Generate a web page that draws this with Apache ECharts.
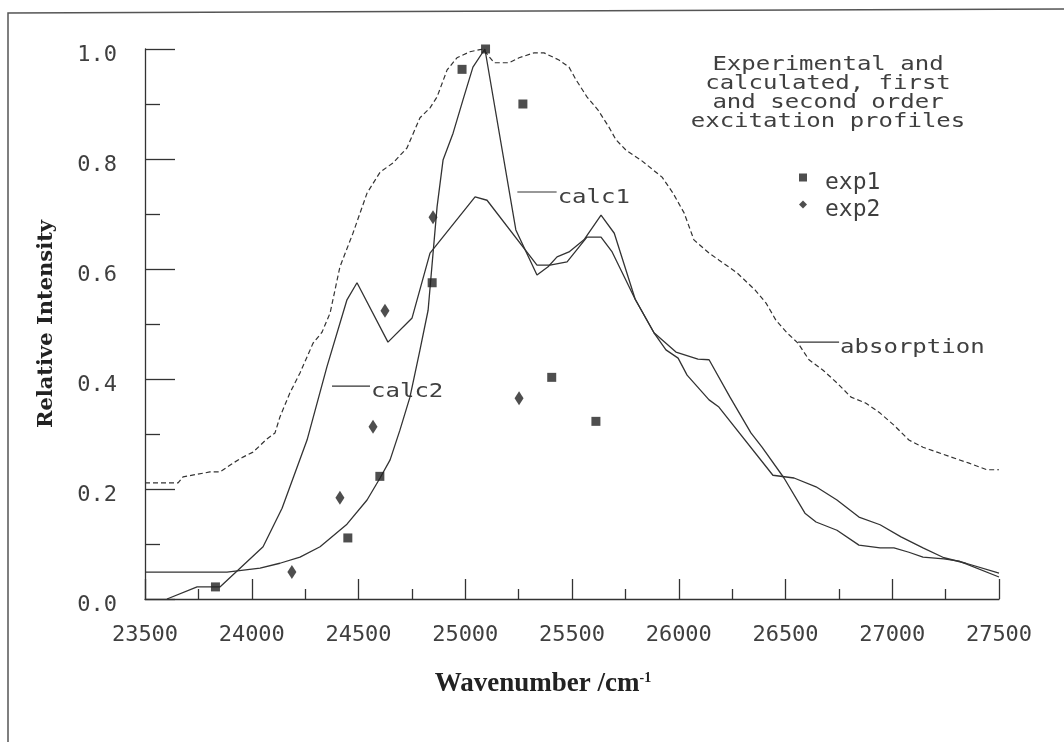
<!DOCTYPE html>
<html><head><meta charset="utf-8">
<script src="https://cdn.jsdelivr.net/npm/echarts@6/dist/echarts.min.js"></script>
<style>html,body{margin:0;padding:0;background:#fff}#c{width:1064px;height:742px}</style>
</head><body><div id="c"></div>
<script>
// ---- data ----
const xMin = 23500, xMax = 27500, xStep = 500;
const yMin = 0, yMax = 1, yStep = 0.2;

const exp1X = [23830, 24450, 24600, 24845, 24985, 25095, 25270, 25405, 25612];
const exp1Y = [0.022, 0.111, 0.223, 0.575, 0.963, 1.0, 0.90, 0.403, 0.323];

const exp2X = [24188, 24413, 24568, 24624, 24849, 25252];
const exp2Y = [0.049, 0.184, 0.313, 0.524, 0.694, 0.365];

const calc1X = [23500, 23884, 24039, 24132, 24226, 24320, 24446, 24540, 24601, 24648, 24694, 24741, 24788, 24826, 24868, 24896, 24943, 24989, 25036, 25092, 25237, 25336, 25388, 25430, 25486, 25556, 25636, 25698, 25796, 25884, 25987, 26090, 26142, 26240, 26338, 26390, 26493, 26591, 26643, 26741, 26844, 26943, 27008, 27078, 27144, 27242, 27313, 27500];
const calc1Y = [0.049, 0.049, 0.056, 0.065, 0.076, 0.095, 0.136, 0.18, 0.22, 0.253, 0.307, 0.367, 0.453, 0.525, 0.713, 0.798, 0.847, 0.907, 0.967, 1.0, 0.671, 0.589, 0.604, 0.622, 0.631, 0.653, 0.698, 0.665, 0.545, 0.484, 0.449, 0.436, 0.435, 0.367, 0.302, 0.276, 0.22, 0.156, 0.14, 0.125, 0.098, 0.093, 0.093, 0.085, 0.076, 0.073, 0.069, 0.04];

const calc2X = [23603, 23744, 23851, 24053, 24142, 24259, 24352, 24446, 24493, 24638, 24751, 24835, 25046, 25102, 25336, 25397, 25477, 25570, 25636, 25688, 25796, 25884, 25940, 25997, 26039, 26142, 26188, 26441, 26540, 26643, 26741, 26844, 26943, 27041, 27144, 27242, 27345, 27500];
const calc2Y = [0.0, 0.022, 0.022, 0.095, 0.165, 0.289, 0.422, 0.544, 0.575, 0.467, 0.511, 0.629, 0.731, 0.725, 0.607, 0.607, 0.613, 0.658, 0.658, 0.631, 0.545, 0.484, 0.453, 0.438, 0.407, 0.362, 0.349, 0.225, 0.22, 0.204, 0.18, 0.149, 0.135, 0.113, 0.093, 0.075, 0.065, 0.047];

const absX = [23500, 23655, 23678, 23804, 23851, 23912, 23959, 24006, 24071, 24109, 24132, 24179, 24226, 24287, 24329, 24367, 24413, 24474, 24540, 24601, 24662, 24727, 24788, 24835, 24868, 24915, 24961, 25022, 25083, 25135, 25205, 25252, 25322, 25369, 25439, 25486, 25519, 25570, 25622, 25673, 25706, 25753, 25823, 25922, 25973, 26025, 26071, 26142, 26189, 26273, 26357, 26409, 26455, 26507, 26559, 26610, 26676, 26741, 26807, 26877, 26943, 27008, 27078, 27144, 27210, 27276, 27360, 27443, 27500];
const absY = [0.211, 0.211, 0.222, 0.231, 0.231, 0.247, 0.258, 0.267, 0.291, 0.302, 0.331, 0.375, 0.411, 0.465, 0.485, 0.52, 0.604, 0.665, 0.738, 0.776, 0.793, 0.82, 0.875, 0.893, 0.913, 0.962, 0.984, 0.995, 1.0, 0.975, 0.975, 0.984, 0.993, 0.993, 0.98, 0.967, 0.944, 0.913, 0.889, 0.858, 0.835, 0.816, 0.798, 0.767, 0.738, 0.702, 0.653, 0.629, 0.616, 0.593, 0.562, 0.538, 0.507, 0.484, 0.465, 0.435, 0.416, 0.393, 0.367, 0.356, 0.338, 0.316, 0.289, 0.276, 0.267, 0.258, 0.247, 0.235, 0.235];

const titleLines = ['Experimental and', 'calculated, first', 'and second order', 'excitation profiles'];
const xName = 'Wavenumber /cm';
const xNameSup = '-1';
const yName = 'Relative Intensity';

// annotation label anchors (data coordinates of the pointer lines)
const annotations = [
  { text: 'calc1', from: [25244, 0.74], to: [25428, 0.74] },
  { text: 'calc2', from: [24376, 0.387], to: [24554, 0.387] },
  { text: 'absorption', from: [26559, 0.467], to: [26751, 0.467] }
];

// ---- chart ----
const pair = (xs, ys) => xs.map((x, i) => [x, ys[i]]);
const INK = '#333';
const TXT = '#3f3f3f';
const MONO = 'DejaVu Sans Mono';

const chart = echarts.init(document.getElementById('c'), null, { renderer: 'canvas' });

const lineStyle = { color: INK, width: 1.3 };

chart.setOption({
  animation: false,
  backgroundColor: '#fff',
  grid: { left: 145, right: 65, top: 49, bottom: 143, containLabel: false },
  legend: {
    data: ['exp1', 'exp2'],
    orient: 'vertical',
    left: 799, top: 160, padding: 0,
    itemWidth: 8, itemHeight: 8, itemGap: -8,
    formatter: name => '{t|' + name + '}',
    textStyle: {
      fontFamily: MONO, fontSize: 23, color: TXT,
      rich: { t: { fontFamily: MONO, fontSize: 23, color: TXT, lineHeight: 14, padding: [12, 0, 0, 13] } }
    }
  },
  xAxis: {
    type: 'value', min: xMin, max: xMax, interval: xStep,
    name: xName + '{sup|' + xNameSup + '}',
    nameLocation: 'middle', nameGap: 72,
    nameTextStyle: {
      fontFamily: 'Liberation Serif', fontWeight: 'bold', fontSize: 27, color: '#222',
      padding: [0, 58, 0, 0],
      rich: { sup: { fontFamily: 'Liberation Serif', fontWeight: 'bold', fontSize: 14, color: '#222', verticalAlign: 'top', lineHeight: 14 } }
    },
    axisLine: { show: true, onZero: false, lineStyle: { color: INK, width: 1.3 } },
    axisTick: { show: true, inside: true, length: 20, lineStyle: { color: INK, width: 1.3 } },
    minorTick: { show: true, splitNumber: 2, length: 10, lineStyle: { color: INK, width: 1.3 } },
    axisLabel: { margin: 25, fontFamily: MONO, fontSize: 22, color: TXT, showMinLabel: true, showMaxLabel: true,
      formatter: v => String(v) },
    splitLine: { show: false }
  },
  yAxis: {
    type: 'value', min: yMin, max: yMax, interval: yStep,
    name: yName, nameLocation: 'middle', nameGap: 88, nameRotate: 90,
    nameTextStyle: { fontFamily: 'DejaVu Serif', fontWeight: 'bold', fontSize: 21, color: '#222' },
    axisLine: { show: true, onZero: false, lineStyle: { color: INK, width: 1.3 } },
    axisTick: { show: true, inside: true, length: 30, lineStyle: { color: INK, width: 1.3 } },
    minorTick: { show: true, splitNumber: 2, length: 15, lineStyle: { color: INK, width: 1.3 } },
    axisLabel: { margin: 28, color: TXT,
      formatter: v => '{lab|' + v.toFixed(1) + '}',
      rich: { lab: { fontFamily: MONO, fontSize: 22, color: TXT, padding: [12, 0, 0, 0] } } },
    splitLine: { show: false }
  },
  series: [
    { name: 'calc1', type: 'line', data: pair(calc1X, calc1Y), symbol: 'none', lineStyle: lineStyle, z: 3 },
    { name: 'calc2', type: 'line', data: pair(calc2X, calc2Y), symbol: 'none', lineStyle: lineStyle, z: 3 },
    { name: 'absorption', type: 'line', data: pair(absX, absY), symbol: 'none',
      lineStyle: { color: INK, width: 1.2, type: [5, 3] }, z: 2 },
    { name: 'exp1', type: 'scatter', data: pair(exp1X, exp1Y), symbol: 'rect', symbolSize: 9,
      itemStyle: { color: '#222' }, z: 4 },
    { name: 'exp2', type: 'scatter', data: pair(exp2X, exp2Y), symbol: 'diamond', symbolSize: [9, 14],
      itemStyle: { color: '#222' }, z: 4 }
  ]
});

// ---- annotations, frame and title (graphic) ----
const monoText = (t, x, y, align) => ({
  type: 'text', x: x, y: y, scaleX: 1.2, silent: true,
  style: { text: t, fontFamily: MONO, fontSize: 20, fill: TXT, align: align || 'left', verticalAlign: 'middle' }
});

const g = [];
// frame of the figure (scanned page border)
g.push({ type: 'polyline', silent: true, shape: { points: [[8, 742], [8, 13], [1064, 9]] },
  style: { stroke: '#555', lineWidth: 1.5, fill: null } });

annotations.forEach(a => {
  const p0 = chart.convertToPixel({ gridIndex: 0 }, a.from);
  const p1 = chart.convertToPixel({ gridIndex: 0 }, a.to);
  g.push({ type: 'line', silent: true, shape: { x1: p0[0], y1: p0[1], x2: p1[0], y2: p1[1] },
    style: { stroke: INK, lineWidth: 1.2 } });
  g.push(monoText(a.text, p1[0] + 1, p1[1] + 6, 'left'));
});

titleLines.forEach((t, i) => {
  g.push(monoText(t, 828, 65 + i * 19, 'center'));
});

chart.setOption({ graphic: g });
</script>
</body></html>
